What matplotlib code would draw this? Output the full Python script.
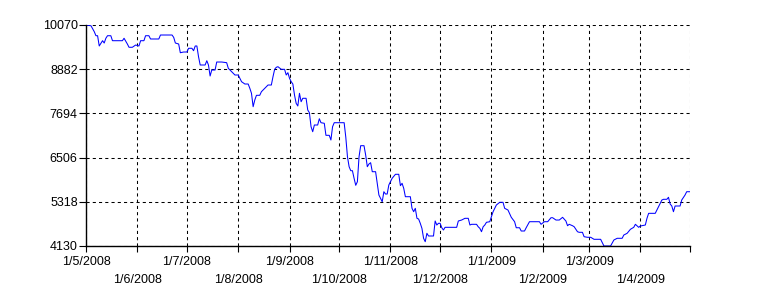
import numpy as np
import matplotlib
matplotlib.use("Agg")
import matplotlib.pyplot as plt

plt.rcParams['font.family'] = ['Liberation Sans', 'DejaVu Sans']

# index level, days counted from 1/5/2008
start = np.datetime64('2008-05-01')
days = [0, 3, 5, 6, 7, 8, 10, 11, 12, 13, 15, 16, 18, 22, 23, 25, 26, 28, 30, 32,
        33, 35, 36, 38, 39, 44, 45, 52, 53, 54, 56, 57, 59, 61, 62, 64, 65, 66, 67, 68,
        69, 72, 73, 74, 75, 76, 78, 79, 82, 85, 86, 88, 90, 92, 94, 96, 98, 99, 100, 101,
        102, 103, 105, 106, 108, 110, 112, 113, 114, 115, 116, 118, 120, 121, 122, 123, 124, 125, 126, 127,
        128, 129, 130, 131, 133, 134, 135, 136, 137, 138, 140, 141, 142, 144, 145, 147, 148, 149, 150, 156,
        157, 158, 159, 160, 161, 162, 163, 164, 165, 166, 168, 169, 170, 171, 172, 173, 175, 176, 177, 179,
        180, 181, 182, 183, 184, 185, 187, 189, 190, 191, 192, 193, 196, 197, 198, 199, 200, 201, 202, 203,
        204, 205, 206, 207, 210, 211, 212, 213, 214, 215, 216, 217, 224, 225, 227, 229, 231, 232, 233, 236,
        237, 238, 239, 240, 241, 242, 244, 246, 248, 250, 252, 253, 255, 257, 259, 260, 262, 263, 265, 266,
        268, 274, 275, 277, 279, 281, 282, 284, 286, 288, 290, 291, 292, 294, 295, 297, 298, 300, 301, 303,
        305, 306, 307, 311, 313, 317, 319, 321, 324, 325, 327, 329, 331, 332, 334, 335, 338, 339, 340, 344,
        346, 348, 349, 351, 352, 353, 354, 355, 356, 359, 360, 362, 363, 365]
index = [10070, 10050, 9890, 9782, 9782, 9506, 9648, 9586, 9713, 9782, 9782, 9648, 9648, 9648, 9713, 9559, 9471, 9471, 9532, 9506,
         9648, 9648, 9782, 9782, 9694, 9694, 9801, 9801, 9737, 9586, 9559, 9325, 9344, 9344, 9444, 9444, 9379, 9506, 9506, 9218,
         8995, 8995, 9110, 8995, 8699, 8860, 8860, 9075, 9075, 9057, 8906, 8815, 8726, 8726, 8546, 8484, 8484, 8369, 8234, 7874,
         8054, 8180, 8180, 8277, 8369, 8457, 8457, 8680, 8879, 8933, 8949, 8879, 8879, 8726, 8788, 8637, 8546, 8484, 8188, 7965,
         7893, 8234, 8008, 8100, 8100, 7785, 7713, 7336, 7202, 7382, 7382, 7551, 7444, 7428, 7105, 7105, 6979, 7336, 7444, 7444,
         7051, 6530, 6261, 6154, 6154, 5949, 5761, 5858, 6530, 6826, 6826, 6576, 6261, 6334, 6369, 6127, 6127, 5815, 5500, 5320,
         5589, 5527, 5527, 5769, 5858, 5949, 6057, 6057, 5751, 5815, 5681, 5455, 5455, 5143, 5052, 5143, 4874, 4855, 4740, 4605,
         4337, 4245, 4471, 4399, 4399, 4802, 4694, 4740, 4740, 4621, 4560, 4632, 4632, 4802, 4828, 4874, 4874, 4694, 4713, 4713,
         4648, 4605, 4514, 4648, 4694, 4767, 4783, 5052, 5232, 5304, 5304, 5143, 5097, 4901, 4783, 4621, 4621, 4533, 4533, 4621,
         4783, 4783, 4713, 4783, 4783, 4890, 4890, 4828, 4828, 4901, 4802, 4675, 4713, 4675, 4648, 4514, 4498, 4498, 4380, 4364,
         4364, 4337, 4310, 4310, 4130, 4130, 4291, 4337, 4337, 4425, 4471, 4579, 4632, 4713, 4632, 4667, 4694, 4874, 5008, 5008,
         5186, 5366, 5385, 5385, 5439, 5259, 5205, 5052, 5205, 5205, 5366, 5500, 5589, 5589]

y_ticks = [4130, 5318, 6506, 7694, 8882, 10070]
months = ['2008-05', '2008-06', '2008-07', '2008-08', '2008-09', '2008-10', '2008-11',
          '2008-12', '2009-01', '2009-02', '2009-03', '2009-04', '2009-05']
month_labels = ['1/5/2008', '1/6/2008', '1/7/2008', '1/8/2008', '1/9/2008', '1/10/2008',
                '1/11/2008', '1/12/2008', '1/1/2009', '1/2/2009', '1/3/2009', '1/4/2009', '']

dates = start + np.array(days, dtype='timedelta64[D]')
month_dates = np.array([np.datetime64(m + '-01') for m in months])

fig = plt.figure(figsize=(7.7, 3.0), dpi=100)
ax = fig.add_axes([86 / 770, 1 - 246 / 300, 604 / 770, 221 / 300])

ax.plot(dates, index, color='#0000ff', lw=0.75)

ax.set_xlim(month_dates[0], month_dates[-1])
ax.set_ylim(y_ticks[0], y_ticks[-1])
ax.set_yticks(y_ticks)
ax.set_yticklabels([str(v) for v in y_ticks])

# labels alternate between two rows
ax.set_xticks(month_dates[0::2])
ax.set_xticklabels(month_labels[0::2])
ax.set_xticks(month_dates[1::2], minor=True)
ax.set_xticklabels(month_labels[1::2], minor=True)

ax.tick_params(axis='both', which='both', direction='out', color='black',
               labelsize=9, width=0.8)
ax.tick_params(axis='x', which='major', length=4, pad=3)
ax.tick_params(axis='x', which='minor', length=4, pad=16)
ax.tick_params(axis='y', length=5, pad=1)

ax.grid(True, which='both', color='black', lw=0.75, linestyle=(0, (3, 3)))
ax.set_axisbelow(True)

for s in ['top', 'right']:
    ax.spines[s].set_visible(False)
for s in ['left', 'bottom']:
    ax.spines[s].set_linewidth(1.0)
    ax.spines[s].set_zorder(5)

fig.savefig('out.png', dpi=100)
